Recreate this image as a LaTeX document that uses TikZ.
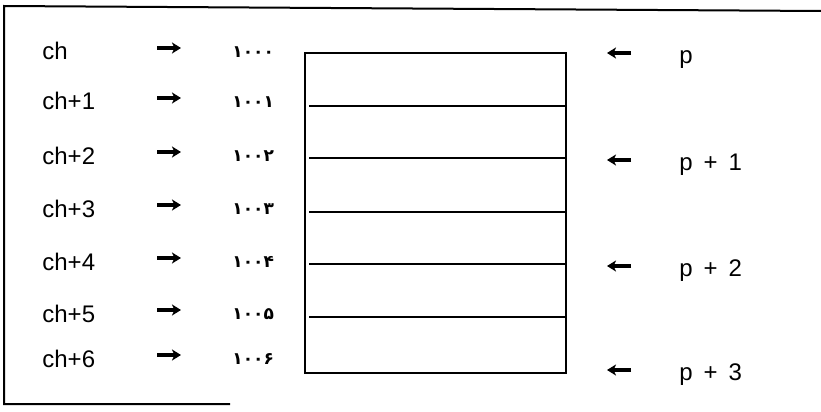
\documentclass[tikz,border=0pt]{standalone}
\usepackage{fontspec}
\setmainfont{Liberation Sans}
\newfontfamily\farsi[Script=Arabic]{DejaVu Sans}
\usetikzlibrary{arrows.meta}

\begin{document}
\begin{tikzpicture}[x=0.5pt,y=-0.5pt,
    lbl/.style={anchor=base west,inner sep=0pt,font=\fontsize{12}{14}\selectfont},
    adr/.style={anchor=base west,inner sep=0pt,font=\farsi\bfseries\fontsize{8.5}{10}\selectfont},
    plbl/.style={lbl,execute at begin node={\spaceskip=5.5pt plus 0pt\relax}},
    ptr/.style={-{Stealth[length=4.5pt,width=5.5pt,inset=1.2pt]},line width=1.6pt},
    cell/.style={line width=0.6pt}]
  \useasboundingbox (0,0) rectangle (821,412);
  % outer frame (only three sides show)
  \draw[line width=1pt] (821,11) -- (4,6) -- (4,404) -- (230,404);
  % memory block
  \draw[line width=0.9pt] (305,53) rectangle (566,373);
  \foreach \y in {106,158,212,264,317}
    \draw[cell] (309,\y) -- (566,\y);
  % char pointers and their addresses
  \foreach \i/\y/\t/\d in {0/60/ch/۱۰۰۰,1/110/ch+1/۱۰۰۱,2/164/ch+2/۱۰۰۲,
      3/217/ch+3/۱۰۰۳,4/270/ch+4/۱۰۰۴,5/322/ch+5/۱۰۰۵,6/367/ch+6/۱۰۰۶}{
    \node[lbl] (ch\i) at (42,\y) {\t};
    \coordinate (ra\i) at (157,\y-12);
    \coordinate (rb\i) at (181,\y-12);
    \draw[ptr] (ra\i) -- (rb\i);
    \node[adr] (ad\i) at (232,\y-3) {\d};
  }
  % int pointer on the right
  \foreach \i/\y/\t in {0/63/p,1/170/p + 1,2/276/p + 2,3/380/p + 3}{
    \coordinate (la\i) at (631,\y-10);
    \coordinate (lb\i) at (607,\y-10);
    \draw[ptr] (la\i) -- (lb\i);
    \node[plbl] (p\i) at (679,\y) {\t};
  }
\end{tikzpicture}
\end{document}
